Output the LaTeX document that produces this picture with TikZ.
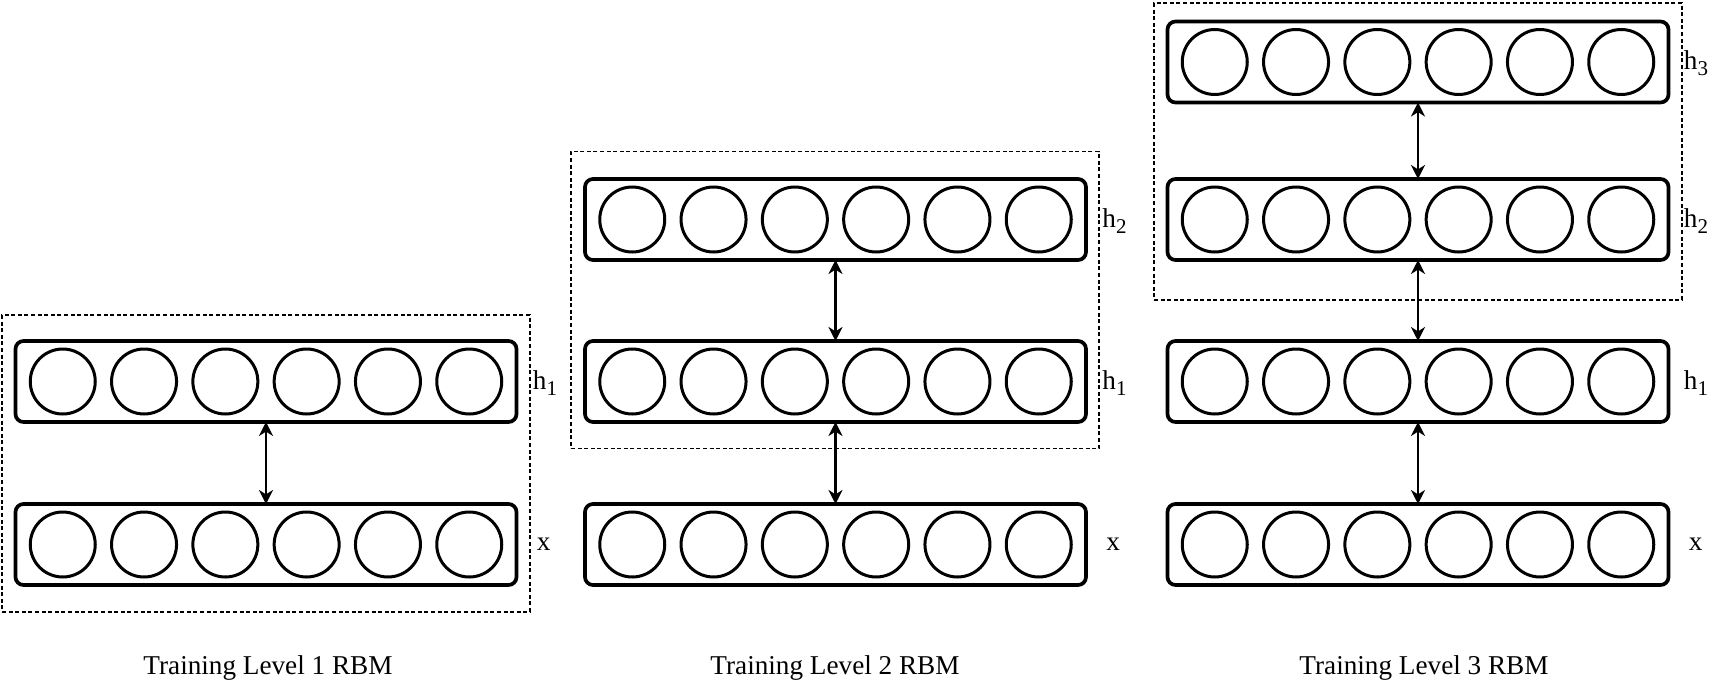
\documentclass[tikz,border=0pt]{standalone}
\usepackage{fontspec}
\setmainfont{Liberation Serif}
\usetikzlibrary{arrows.meta}
\newcommand\mylayer[3]{%
  \node[layerbox] (#1) at (#2,#3) {};
  \foreach \k in {1,...,6} {
    \node[unit] (#1-\k) at ({#2+(\k-3.5)*81.3},#3) {};
  }
}
\newcommand\hsub[1]{h\raisebox{-3pt}{\fontsize{10.5}{12}\selectfont #1}}
\begin{document}
\begin{tikzpicture}[x=0.5pt,y=-0.5pt,
  layerbox/.style={draw, line width=1.85pt, rounded corners=4pt, minimum width=250.5pt, minimum height=40.5pt, inner sep=0pt, outer sep=0pt},
  unit/.style={draw, circle, line width=1.5pt, minimum size=32.5pt, inner sep=0pt},
  frame/.style={draw, dash pattern=on 2pt off 1.3pt, line width=0.6pt, minimum width=264pt, minimum height=148.5pt, inner sep=0pt},
  link/.style={{Stealth[length=7pt,width=7pt,inset=2.2pt]}-{Stealth[length=7pt,width=7pt,inset=2.2pt]}, line width=1.1pt},
  hlbl/.style={anchor=base west, inner sep=0pt, font=\fontsize{13.6}{16}\selectfont},
  ttl/.style={anchor=base, inner sep=0pt, font=\fontsize{13.6}{16}\selectfont}]
\useasboundingbox (0,0) rectangle (1725,685);

% dashed frames
\node[frame] (f1) at (266,463.5) {};
\node[frame] (f2) at (835,300) {};
\node[frame] (f3) at (1418,151.5) {};

% column 1
\mylayer{aone}{266}{381.5}
\mylayer{ax}{266}{544.5}
% column 2
\mylayer{btwo}{835.5}{219.5}
\mylayer{bone}{835.5}{381.5}
\mylayer{bx}{835.5}{544.5}
% column 3
\mylayer{cthree}{1418}{62}
\mylayer{ctwo}{1418}{219.5}
\mylayer{cone}{1418}{381.5}
\mylayer{cx}{1418}{544.5}

% connectors
\draw[link] (aone.south) -- (ax.north);
\draw[link] (btwo.south) -- (bone.north);
\draw[link] (bone.south) -- (bx.north);
\draw[link] (cthree.south) -- (ctwo.north);
\draw[link] (ctwo.south) -- (cone.north);
\draw[link] (cone.south) -- (cx.north);

% layer labels
\node[hlbl] (laone) at ([xshift=8pt,yshift=-3.75pt]aone.east) {\hsub{1}};
\node[hlbl] (lax) at ([xshift=10pt,yshift=-3pt]ax.east) {x};
\node[hlbl] (lbtwo) at ([xshift=8pt,yshift=-3.75pt]btwo.east) {\hsub{2}};
\node[hlbl] (lbone) at ([xshift=8pt,yshift=-3.75pt]bone.east) {\hsub{1}};
\node[hlbl] (lbx) at ([xshift=10pt,yshift=-3pt]bx.east) {x};
\node[hlbl] (lcthree) at ([xshift=7.5pt,yshift=-3.75pt]cthree.east) {\hsub{3}};
\node[hlbl] (lctwo) at ([xshift=7.5pt,yshift=-3.75pt]ctwo.east) {\hsub{2}};
\node[hlbl] (lcone) at ([xshift=7.5pt,yshift=-3.75pt]cone.east) {\hsub{1}};
\node[hlbl] (lcx) at ([xshift=10pt,yshift=-3pt]cx.east) {x};

% titles
\node[ttl] (t1) at (268,674) {Training Level 1 RBM};
\node[ttl] (t2) at (835,674) {Training Level 2 RBM};
\node[ttl] (t3) at (1424,674) {Training Level 3 RBM};
\end{tikzpicture}
\end{document}
